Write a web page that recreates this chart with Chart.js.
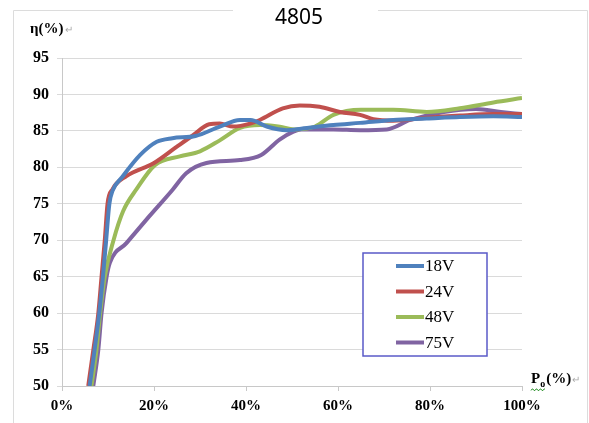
<!DOCTYPE html>
<html>
<head>
<meta charset="utf-8">
<script src="https://cdn.jsdelivr.net/npm/chart.js@4"></script>
<style>
  html, body { margin: 0; padding: 0; background: #fff; }
  canvas { display: block; }
</style>
</head>
<body>
<canvas id="effChart" width="589" height="423"></canvas>
<script>
// load (%) and efficiency (%), one pair of arrays per input voltage
const load18V = [6, 7.1, 8.1, 8.9, 9.6, 10.3, 11, 13, 17, 20.6, 24, 29, 34.3, 38.7, 41, 44.5, 48.8, 52, 59, 64.8, 72, 79.3, 86.5, 93.8, 100];
const eff18V  = [50, 55, 60, 65, 70, 75, 76.8, 78.6, 81.7, 83.5, 84, 84.3, 85.6, 86.5, 86.5, 85.6, 85.1, 85.3, 85.8, 86.1, 86.5, 86.7, 86.9, 87, 86.9];

const load24V = [5.7, 6.8, 7.9, 8.6, 9.3, 9.9, 11, 14, 20, 24.9, 28.5, 32, 34.3, 37.2, 40.9, 43, 48, 51.7, 56, 60.4, 64.8, 67.7, 72, 79.3, 86.5, 93.8, 100];
const eff24V  = [50, 54.9, 60, 65, 70, 75, 77, 78.8, 80.6, 82.8, 84.4, 85.9, 86, 85.6, 86, 86.5, 88.1, 88.5, 88.3, 87.6, 87.2, 86.6, 86.4, 86.8, 87.1, 87.3, 87.3];

const load48V = [6.4, 7.5, 8.3, 9.3, 11.2, 13.3, 16.2, 20.2, 25.6, 30, 34.3, 38.7, 43, 47, 51, 55, 59, 65, 72, 79.3, 86.5, 93.8, 100];
const eff48V  = [50, 55, 60, 65, 70, 74, 77, 80.3, 81.5, 82.2, 83.7, 85.4, 85.8, 85.6, 85.2, 85.6, 87.2, 87.9, 87.9, 87.6, 88.1, 88.9, 89.5];

const load75V = [6.8, 7.9, 8.6, 9.7, 10.4, 14, 19, 24, 27, 31.4, 38.7, 43.3, 47.3, 50.3, 52, 59, 64.8, 70.6, 75.7, 83, 90, 95.4, 100];
const eff75V  = [50, 55, 60, 65, 66.9, 69.6, 73.3, 76.9, 79.2, 80.6, 81, 81.7, 83.8, 84.9, 85.2, 85.2, 85.1, 85.2, 86.5, 87.6, 88, 87.6, 87.3];

const seriesNames  = ['18V', '24V', '48V', '75V'];
const seriesColors = ['#4f81bd', '#c0504d', '#9bbb59', '#8064a2'];
const xTicks = [0, 20, 40, 60, 80, 100];

const pairs = (xs, ys) => xs.map((x, i) => ({ x: x, y: ys[i] }));
const allData = [pairs(load18V, eff18V), pairs(load24V, eff24V), pairs(load48V, eff48V), pairs(load75V, eff75V)];

const serif = '"Liberation Serif", "Times New Roman", serif';

// page frame, title, axis captions and the boxed legend
const extras = {
    id: 'extras',
    beforeDraw(chart) {
        const c = chart.ctx;
        c.save();
        c.fillStyle = '#fff';
        c.fillRect(0, 0, chart.width, chart.height);
        c.strokeStyle = '#dcdcdc';
        c.lineWidth = 1;
        c.beginPath();
        c.moveTo(13.5, 423); c.lineTo(13.5, 10.5); c.lineTo(233, 10.5);
        c.moveTo(378, 10.5); c.lineTo(587.5, 10.5); c.lineTo(587.5, 423);
        c.stroke();
        c.restore();
    },
    afterDraw(chart) {
        const c = chart.ctx;
        c.save();
        // title
        c.fillStyle = '#000';
        c.font = '21px "Noto Sans", "Open Sans", sans-serif';
        c.textAlign = 'center';
        c.textBaseline = 'alphabetic';
        c.fillText('4805', 299, 24);

        // y caption
        c.textAlign = 'left';
        c.font = 'bold 15px ' + serif;
        c.fillText('η(%)', 30, 33);
        let w = c.measureText('η(%)').width;
        c.fillStyle = '#aaa';
        c.font = '10px ' + serif;
        c.fillText('↵', 30 + w + 1, 33);

        // x caption P_o(%)
        c.fillStyle = '#000';
        c.font = 'bold 15px ' + serif;
        c.fillText('P', 531, 383);
        const pw = c.measureText('P').width;
        c.font = 'bold 10px ' + serif;
        c.fillText('o', 531 + pw, 387);
        const ow = c.measureText('o').width;
        c.font = 'bold 15px ' + serif;
        c.fillText('(%)', 531 + pw + ow + 1, 383);
        const cw = c.measureText('(%)').width;
        c.fillStyle = '#aaa';
        c.font = '10px ' + serif;
        c.fillText('↵', 531 + pw + ow + 1 + cw + 1, 383);
        // spell-check squiggle under P_o
        c.strokeStyle = '#3c9a3c';
        c.lineWidth = 1;
        c.beginPath();
        for (let x = 531; x <= 531 + pw + ow; x += 1) {
            const y = 389.5 + (Math.floor(x / 2) % 2 ? 1 : -0.5);
            x === 531 ? c.moveTo(x, y) : c.lineTo(x, y);
        }
        c.stroke();

        // legend box
        c.strokeStyle = '#5a5ac8';
        c.lineWidth = 1.5;
        c.fillStyle = '#fff';
        c.fillRect(363, 253, 124, 103);
        c.strokeRect(363, 253, 124, 103);
        const rows = [266, 291.5, 317, 342.5];
        chart.data.datasets.forEach((ds, i) => {
            c.strokeStyle = ds.borderColor;
            c.lineWidth = 4;
            c.beginPath();
            c.moveTo(396, rows[i]);
            c.lineTo(424, rows[i]);
            c.stroke();
            c.fillStyle = '#000';
            c.font = '17px ' + serif;
            c.textBaseline = 'middle';
            c.fillText(ds.label, 425, rows[i] + 1);
        });
        c.restore();
    }
};

new Chart(document.getElementById('effChart'), {
    type: 'line',
    data: {
        datasets: allData.map((d, i) => ({
            label: seriesNames[i],
            data: d,
            borderColor: seriesColors[i],
            backgroundColor: seriesColors[i],
            borderWidth: 4,
            pointRadius: 0,
            fill: false,
            cubicInterpolationMode: 'monotone',
        }))
    },
    options: {
        responsive: false,
        animation: false,
        events: [],
        layout: { padding: { top: 58, right: 67, left: 0, bottom: 0 } },
        scales: {
            x: {
                type: 'linear',
                min: 0,
                max: 100,
                afterFit: s => { s.height = 37; },
                afterBuildTicks: s => { s.ticks = xTicks.map(v => ({ value: v })); },
                grid: { drawOnChartArea: false, drawTicks: true, tickLength: 5, color: '#c8c8c8' },
                border: { color: '#c8c8c8' },
                ticks: {
                    padding: 6,
                    color: '#000',
                    font: { family: serif, size: 15, weight: 'bold' },
                    maxRotation: 0,
                    callback: v => v + '%',
                }
            },
            y: {
                min: 50,
                max: 95,
                afterFit: s => { s.width = 62; },
                grid: { color: '#dadada', tickLength: 5 },
                border: { color: '#c8c8c8' },
                ticks: {
                    stepSize: 5,
                    padding: 8,
                    color: '#000',
                    font: { family: serif, size: 16, weight: 'bold' },
                }
            }
        },
        plugins: {
            legend: { display: false },
            title: { display: false },
            tooltip: { enabled: false },
        }
    },
    plugins: [extras]
});
</script>
</body>
</html>
